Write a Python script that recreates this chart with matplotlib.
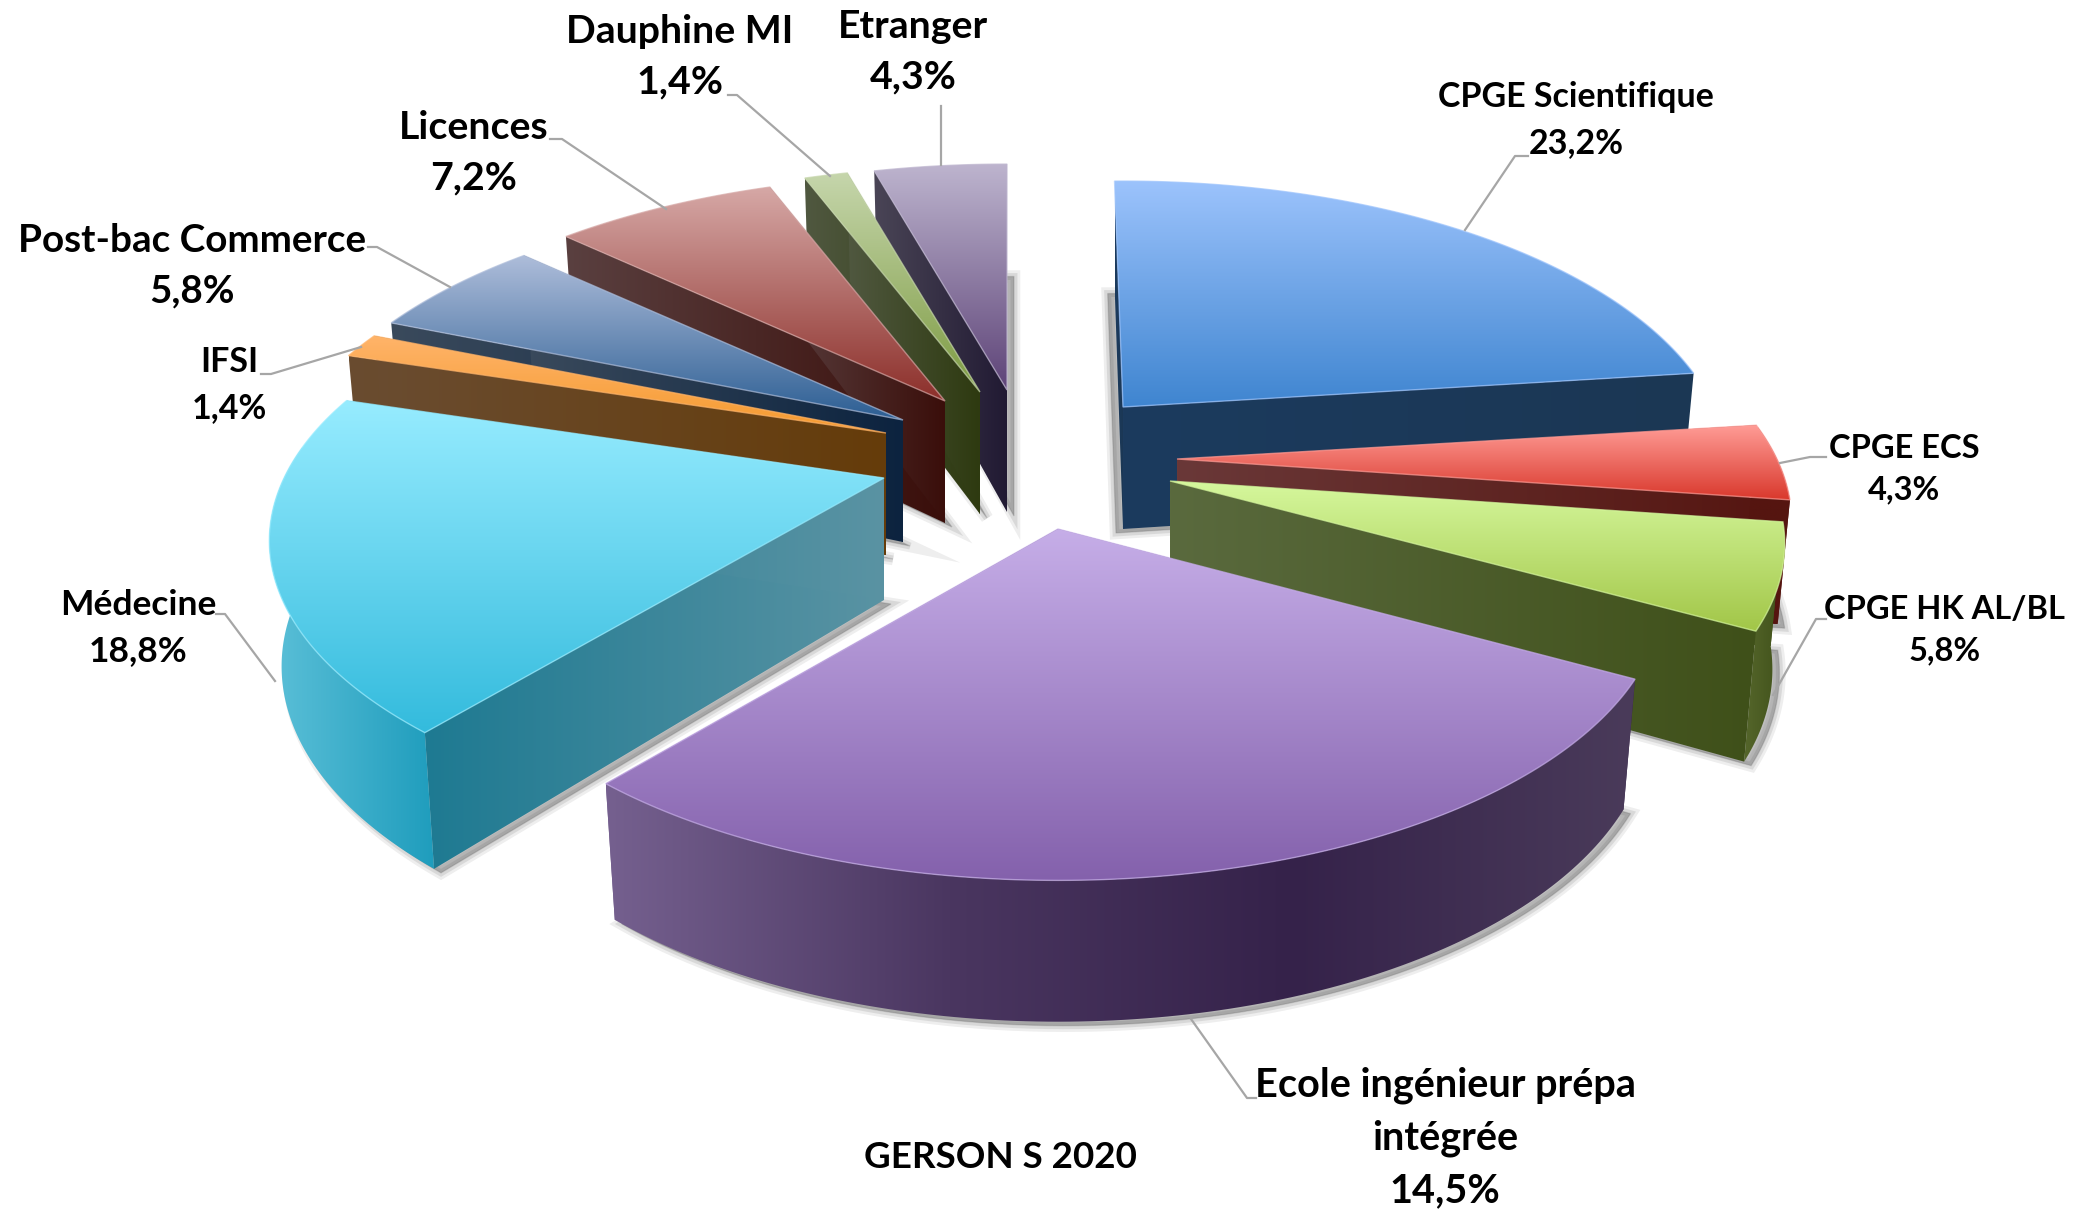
import numpy as np
import matplotlib
matplotlib.use("Agg")
import matplotlib.pyplot as plt
from matplotlib.colors import to_rgb
from matplotlib.patches import Polygon

plt.rcParams["font.family"] = ["Lato", "DejaVu Sans"]

# data, clockwise from the top
categories = ["CPGE Scientifique", "CPGE ECS", "CPGE HK AL/BL", "Ecole ingénieur prépa\nintégrée",
              "Médecine", "IFSI", "Post-bac Commerce", "Licences", "Dauphine MI", "Etranger"]
value_labels = ["23,2%", "4,3%", "5,8%", "14,5%", "18,8%", "1,4%", "5,8%", "7,2%", "1,4%", "4,3%"]
# share of the circle as drawn: the purple slice is printed 14,5% but is drawn far bigger
shares = [23.2, 4.3, 5.8, 27.8, 18.8, 1.4, 5.8, 7.2, 1.4, 4.3]

# where each exploded slice has its tip, in pixels
tip_x = [1123, 1177, 1170, 1058, 884, 886, 903, 945, 980, 1007]
tip_y = [407, 459, 481, 529, 478, 433, 420, 401, 392, 390]
width_factor = [0.985, 1.0, 1.0, 0.985, 1.0, 1.0, 1.0, 1.0, 1.0, 1.0]

top_colors = [("#9CC3FC", "#3F85D0"), ("#FF9C96", "#D9382C"), ("#D6F89E", "#A2C648"),
              ("#C6AEE8", "#8461AC"), ("#97ECFF", "#33BBDD"), ("#FFB46A", "#F59A2E"),
              ("#AEBDDA", "#2C5E93"), ("#D6A8A6", "#8C2F2A"), ("#C6D6AC", "#7D9B42"),
              ("#BDB4CE", "#5E4478")]
wall_colors = [("#1C3B5E", "#1B3754"), ("#6A3838", "#551510"), ("#5A6A3E", "#3F5019"),
               ("#75608F", "#35224A"), ("#1E7A92", "#5A93A3"), ("#6A4C30", "#653C0A"),
               ("#3A4A5C", "#0C233F"), ("#5A4040", "#3A0E0A"), ("#505840", "#2E3A10"),
               ("#4A4556", "#211A33")]
rim_colors = [("#1C3B5E", "#1C3B5E"), ("#551510", "#551510"), ("#55662B", "#3F5019"),
              ("#75608F", "#4A3660", "#35224A", "#4A3B5A"), ("#5CC0D8", "#1F9DBD"),
              ("#6A4C30", "#6A4C30"), ("#3A4A5C", "#3A4A5C"), ("#5A4040", "#5A4040"),
              ("#505840", "#505840"), ("#4A4556", "#4A4556")]

# slices further back go first so the nearer ones cover them
draw_order = [9, 8, 7, 6, 5, 0, 1, 2, 4, 3]

label_x = [1576, 1904, 1945, 1445, 138, 229, 192, 474, 680, 913]
label_y = [120, 469, 630, 1138, 628, 385, 266, 153, 57, 52]
label_size = [24.5, 23.5, 23.5, 28.5, 25.5, 24.5, 27.8, 28.3, 28.3, 28.3]
leaders = [[(1465, 230), (1515, 156), (1528, 156)],
           [(1780, 463), (1810, 457), (1826, 457)],
           [(1773, 695), (1816, 619), (1826, 619)],
           [(1191, 1019), (1247, 1098), (1256, 1098)],
           [(275, 681), (225, 614), (216, 614)],
           [(361, 347), (271, 374), (261, 374)],
           [(450, 287), (377, 247), (368, 247)],
           [(666, 209), (562, 139), (550, 139)],
           [(830, 176), (737, 95), (728, 95)],
           [(941, 165), (941, 106)]]

START_ANGLE = -1.0
FULL_TURN = 361.0
RADIUS_X = 600.0
RADIUS_Y = 275.0
CAMERA = 4.6
THICKNESS = 122.0
BOTTOM_SHRINK = 0.98

layer = 1


def next_layer():
    global layer
    layer += 1
    return layer


def top_points(i, theta):
    # theta in degrees clockwise from the back of the pie
    rad = np.radians(theta)
    depth = -np.cos(rad)
    scale = CAMERA / (CAMERA - depth)
    x = tip_x[i] + RADIUS_X * width_factor[i] * np.sin(rad) * scale
    return x, tip_y[i] + RADIUS_Y * depth * scale, scale


def bottom_points(i, x, y, scale):
    return tip_x[i] + (x - tip_x[i]) * BOTTOM_SHRINK, y + THICKNESS * scale ** 0.6


def gradient_fill(ax, pts, colors, vertical):
    # a gradient picture clipped to the polygon
    pts = np.array(pts)
    stops = np.array([to_rgb(c) for c in colors])
    pos = np.linspace(0, 1, 256)
    ramp = np.stack([np.interp(pos, np.linspace(0, 1, len(stops)), stops[:, k]) for k in range(3)], axis=-1)
    picture = ramp[:, None, :] if vertical else ramp[None, :, :]
    x0, x1 = pts[:, 0].min(), pts[:, 0].max()
    y0, y1 = pts[:, 1].min(), pts[:, 1].max()
    patch = Polygon(pts, closed=True, transform=ax.transData, facecolor="none", edgecolor="none")
    ax.add_patch(patch)
    im = ax.imshow(picture, extent=(x0, x1, y1, y0), aspect="auto", interpolation="bilinear",
                   zorder=next_layer())
    im.set_clip_path(patch)


fig = plt.figure(figsize=(20.75, 12.09), dpi=100)
ax = fig.add_axes([0, 0, 1, 1])

edges = START_ANGLE + np.concatenate([[0], np.cumsum(shares)]) / sum(shares) * FULL_TURN

# soft shadows under the slices
for i in draw_order:
    theta = np.linspace(edges[i], edges[i + 1], 80)
    x, y, scale = top_points(i, theta)
    bx, by = bottom_points(i, x, y, scale)
    tx, ty = bottom_points(i, tip_x[i], tip_y[i], 1.0)
    side = -1 if i == 0 else 1
    pts = np.column_stack([np.r_[tx, bx] + side * 7, np.r_[ty, by] + 4])
    for width, alpha in [(9, 0.10), (5, 0.14), (1, 0.2)]:
        ax.add_patch(Polygon(pts, closed=True, facecolor=(0.35, 0.35, 0.35, alpha),
                             edgecolor=(0.35, 0.35, 0.35, alpha), linewidth=width, zorder=next_layer()))

for i in draw_order:
    theta = np.linspace(edges[i], edges[i + 1], 120)
    x, y, scale = top_points(i, theta)
    bx, by = bottom_points(i, x, y, scale)
    tx, ty = bottom_points(i, tip_x[i], tip_y[i], 1.0)

    # the two straight cut faces
    for k in (0, -1):
        wall = [(tip_x[i], tip_y[i]), (x[k], y[k]), (bx[k], by[k]), (tx, ty)]
        gradient_fill(ax, wall, wall_colors[i], False)

    # the outer curved face, only the part turned to the viewer
    front = -np.cos(np.radians(theta)) > -0.12
    if front.sum() > 1:
        rim = np.vstack([np.column_stack([x[front], y[front]]),
                         np.column_stack([bx[front], by[front]])[::-1]])
        gradient_fill(ax, rim, rim_colors[i], False)

    # the top face
    top = np.vstack([[(tip_x[i], tip_y[i])], np.column_stack([x, y])])
    gradient_fill(ax, top, top_colors[i], True)
    ax.add_patch(Polygon(top, closed=True, facecolor="none", edgecolor=top_colors[i][0],
                         linewidth=1.0, alpha=0.7, zorder=next_layer()))

for line in leaders:
    ax.plot([p[0] for p in line], [p[1] for p in line], color="#A6A6A6", linewidth=1.6, zorder=next_layer())

for i in range(len(categories)):
    ax.text(label_x[i], label_y[i], categories[i] + "\n" + value_labels[i], ha="center", va="center",
            fontsize=label_size[i], fontweight="bold", color="black", linespacing=1.52, zorder=next_layer())

ax.text(1000, 1158, "GERSON S 2020", ha="center", va="center", fontsize=26.5, fontweight="bold",
        color="black", zorder=next_layer())

ax.set_xlim(0, 2075)
ax.set_ylim(1209, 0)
ax.axis("off")
fig.savefig("out.png", dpi=100, facecolor="white")
